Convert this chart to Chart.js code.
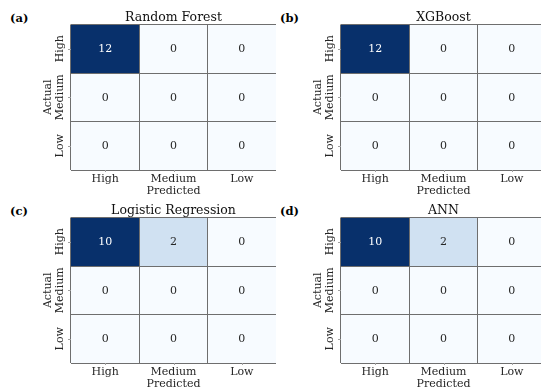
<!DOCTYPE html>
<html>
<head>
<meta charset="utf-8">
<script src="https://cdn.jsdelivr.net/npm/chart.js@4/dist/chart.umd.min.js"></script>
<style>
  html, body { margin: 0; padding: 0; background: #ffffff; }
  body { width: 541px; height: 387px; overflow: hidden; position: relative; }
  canvas { position: absolute; }
  .tag { position: absolute; font-family: 'DejaVu Serif', serif; font-weight: bold; font-size: 11.5px; color: #000; line-height: 1; }
</style>
</head>
<body>
<div class="tag" id="tag0" style="left:10px;top:13px;"></div>
<div class="tag" id="tag1" style="left:280px;top:13px;"></div>
<div class="tag" id="tag2" style="left:10px;top:206px;"></div>
<div class="tag" id="tag3" style="left:280px;top:206px;"></div>
<canvas id="c0" width="276" height="198" style="left:0px;top:0px;"></canvas>
<canvas id="c1" width="276" height="198" style="left:270px;top:0px;"></canvas>
<canvas id="c2" width="276" height="198" style="left:0px;top:193px;"></canvas>
<canvas id="c3" width="276" height="198" style="left:270px;top:193px;"></canvas>
<script>
// Class labels shared by every confusion matrix
const predictedClasses = ['High', 'Medium', 'Low'];
const actualClasses = ['High', 'Medium', 'Low'];

// Model titles and panel tags
const modelNames = ['Random Forest', 'XGBoost', 'Logistic Regression', 'ANN'];
const panelTags = ['(a)', '(b)', '(c)', '(d)'];

// Confusion matrices: rows = actual class, columns = predicted class
const randomForest = [[12, 0, 0], [0, 0, 0], [0, 0, 0]];
const xgboost = [[12, 0, 0], [0, 0, 0], [0, 0, 0]];
const logisticRegression = [[10, 2, 0], [0, 0, 0], [0, 0, 0]];
const ann = [[10, 2, 0], [0, 0, 0], [0, 0, 0]];

const matrices = [randomForest, xgboost, logisticRegression, ann];

const SERIF = "'DejaVu Serif', 'Liberation Serif', serif";
const TEXT_DARK = '#262626';
const LINE_GRAY = '#6e6e6e';

// Sequential "Blues" colour ramp
const bluesStops = [
  [247, 251, 255], [222, 235, 247], [198, 219, 239], [158, 202, 225],
  [107, 174, 214], [66, 146, 198], [33, 113, 181], [8, 81, 156], [8, 48, 107]
];
function blues(t) {
  t = Math.max(0, Math.min(1, t));
  const p = t * (bluesStops.length - 1);
  const i = Math.min(Math.floor(p), bluesStops.length - 2);
  const f = p - i;
  const a = bluesStops[i], b = bluesStops[i + 1];
  return a.map((v, k) => Math.round(v + (b[k] - v) * f));
}
function rgbStr(c) { return 'rgb(' + c.join(',') + ')'; }
function luminance(c) {
  const lin = c.map(v => {
    v /= 255;
    return v <= 0.03928 ? v / 12.92 : Math.pow((v + 0.055) / 1.055, 2.4);
  });
  return 0.2126 * lin[0] + 0.7152 * lin[1] + 0.0722 * lin[2];
}

// Writes the panel title, the counts in each cell and the rotated row labels with their tick marks
const heatmapText = {
  id: 'heatmapText',
  afterDraw(chart, args, opts) {
    const ctx = chart.ctx;
    const area = chart.chartArea;
    const xs = chart.scales.x, ys = chart.scales.y;
    ctx.save();

    // title centred over the matrix
    ctx.fillStyle = '#111111';
    ctx.font = '12.5px ' + SERIF;
    ctx.textAlign = 'center';
    ctx.textBaseline = 'alphabetic';
    ctx.fillText(opts.title, (area.left + area.right) / 2, area.top - 3.5);

    ctx.font = '11px ' + SERIF;
    ctx.textBaseline = 'middle';
    chart.data.datasets.forEach((ds, di) => {
      const meta = chart.getDatasetMeta(di);
      meta.data.forEach((bar, ci) => {
        const p = bar.getProps(['x', 'y', 'base'], true);
        ctx.fillStyle = ds.textColors[ci];
        ctx.fillText(String(ds.counts[ci]), p.x, (p.y + p.base) / 2 + 0.5);
      });
    });

    // small tick marks
    ctx.strokeStyle = '#a0a0a0';
    ctx.lineWidth = 1;
    actualClasses.forEach((_, i) => {
      const y = Math.round(ys.getPixelForValue(i)) + 0.5;
      ctx.beginPath();
      ctx.moveTo(area.left - 3, y);
      ctx.lineTo(area.left, y);
      ctx.stroke();
    });
    predictedClasses.forEach((_, i) => {
      const x = Math.round(xs.getPixelForValue(i)) + 0.5;
      ctx.beginPath();
      ctx.moveTo(x, area.bottom);
      ctx.lineTo(x, area.bottom + 2);
      ctx.stroke();
    });

    // rotated row labels
    ctx.fillStyle = TEXT_DARK;
    actualClasses.forEach((label, i) => {
      const y = ys.getPixelForValue(i);
      ctx.save();
      ctx.translate(area.left - 10.5, y);
      ctx.rotate(-Math.PI / 2);
      ctx.fillText(label, 0, 0);
      ctx.restore();
    });
    ctx.restore();
  }
};

function buildChart(idx) {
  const m = matrices[idx];
  const flat = m.flat();
  const vmin = Math.min(...flat), vmax = Math.max(...flat);
  const datasets = actualClasses.map((_, r) => {
    const cols = m[r].map(v => blues((v - vmin) / (vmax - vmin || 1)));
    return {
      label: actualClasses[r],
      data: predictedClasses.map(() => [r - 0.5, r + 0.5]),
      counts: m[r],
      backgroundColor: cols.map(rgbStr),
      textColors: cols.map(c => luminance(c) > 0.408 ? TEXT_DARK : '#ffffff'),
      borderWidth: 0,
      grouped: false,
      barPercentage: 1,
      categoryPercentage: 1
    };
  });

  const boundaries = actualClasses.map((_, i) => i - 0.5).concat([actualClasses.length - 0.5]);

  document.getElementById('tag' + idx).textContent = panelTags[idx];

  new Chart(document.getElementById('c' + idx), {
    type: 'bar',
    data: { labels: predictedClasses, datasets },
    options: {
      responsive: false,
      animation: false,
      events: [],
      layout: { padding: { top: 24.5, left: 0, right: 0, bottom: 0 } },
      plugins: {
        legend: { display: false },
        tooltip: { enabled: false },
        title: { display: false },
        heatmapText: { title: modelNames[idx] }
      },
      scales: {
        x: {
          type: 'category',
          offset: true,
          grid: { offset: true, color: LINE_GRAY, lineWidth: 1, drawTicks: false, z: 1 },
          border: { display: false },
          ticks: { color: TEXT_DARK, font: { family: SERIF, size: 11 }, padding: 3, maxRotation: 0 },
          title: {
            display: true, text: 'Predicted', color: TEXT_DARK,
            font: { family: SERIF, size: 11 }, padding: { top: 0, bottom: 0 }
          },
          afterFit(s) { s.height = 28; }
        },
        y: {
          type: 'linear',
          reverse: true,
          min: -0.5,
          max: actualClasses.length - 0.5,
          afterBuildTicks(s) { s.ticks = boundaries.map(v => ({ value: v })); },
          grid: { color: LINE_GRAY, lineWidth: 1, drawTicks: false, z: 1 },
          border: { display: false },
          ticks: { display: false },
          title: {
            display: true, text: 'Actual', color: TEXT_DARK,
            font: { family: SERIF, size: 11 }, padding: { top: 41.5, bottom: 0 }
          },
          afterFit(s) { s.width = 71; }
        }
      }
    },
    plugins: [heatmapText]
  });
}

matrices.forEach((_, i) => buildChart(i));
</script>
</body>
</html>
